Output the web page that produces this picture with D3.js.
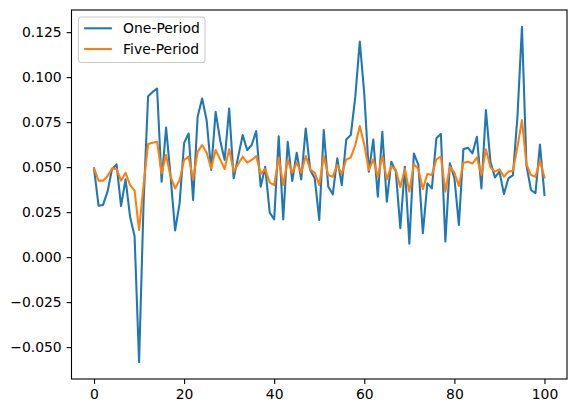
<!DOCTYPE html>
<html>
<head>
<meta charset="utf-8">
<script src="https://cdn.jsdelivr.net/npm/d3@7"></script>
<style>
  body { margin: 0; background: #fff; }
  text { font-family: "DejaVu Sans", sans-serif; }
</style>
</head>
<body>
<div id="chart"></div>
<script>
const width = 577, height = 413;
const margin = {left: 71.5, right: 10, top: 10, bottom: 34};

// period index 0..100
const periods = d3.range(0, 101);
const onePeriod = [
  0.0493, 0.0286, 0.0290, 0.0364, 0.0490, 0.0515, 0.0284, 0.0432, 0.0225, 0.0118,
  -0.0584, 0.0300, 0.0894, 0.0918, 0.0937, 0.0419, 0.0720, 0.0447, 0.0148, 0.0300,
  0.0635, 0.0687, 0.0318, 0.0780, 0.0881, 0.0761, 0.0484, 0.0807, 0.0650, 0.0540,
  0.0826, 0.0438, 0.0558, 0.0678, 0.0595, 0.0623, 0.0700, 0.0391, 0.0502, 0.0247,
  0.0210, 0.0672, 0.0210, 0.0641, 0.0423, 0.0580, 0.0432, 0.0715, 0.0484, 0.0438,
  0.0207, 0.0706, 0.0391, 0.0349, 0.0549, 0.0400, 0.0654, 0.0678, 0.0890, 0.1198,
  0.0905, 0.0475, 0.0654, 0.0336, 0.0696, 0.0308, 0.0530, 0.0475, 0.0161, 0.0502,
  0.0074, 0.0576, 0.0512, 0.0133, 0.0410, 0.0382, 0.0660, 0.0684, 0.0087, 0.0521,
  0.0440, 0.0179, 0.0599, 0.0608, 0.0576, 0.0669, 0.0382, 0.0817, 0.0530, 0.0443,
  0.0475, 0.0351, 0.0438, 0.0456, 0.0780, 0.1280, 0.0510, 0.0373, 0.0355, 0.0626,
  0.0345
];
const fivePeriod = [
  0.0493, 0.0425, 0.0425, 0.0450, 0.0493, 0.0490, 0.0425, 0.0469, 0.0400, 0.0369,
  0.0151, 0.0400, 0.0628, 0.0635, 0.0641, 0.0466, 0.0567, 0.0447, 0.0382, 0.0428,
  0.0540, 0.0558, 0.0432, 0.0585, 0.0623, 0.0580, 0.0493, 0.0595, 0.0543, 0.0490,
  0.0599, 0.0475, 0.0517, 0.0558, 0.0525, 0.0540, 0.0562, 0.0462, 0.0490, 0.0414,
  0.0400, 0.0554, 0.0400, 0.0540, 0.0469, 0.0525, 0.0469, 0.0562, 0.0488, 0.0469,
  0.0400, 0.0562, 0.0456, 0.0447, 0.0512, 0.0462, 0.0543, 0.0554, 0.0623, 0.0728,
  0.0625, 0.0484, 0.0543, 0.0447, 0.0562, 0.0432, 0.0506, 0.0484, 0.0388, 0.0490,
  0.0364, 0.0517, 0.0490, 0.0377, 0.0462, 0.0456, 0.0543, 0.0558, 0.0364, 0.0502,
  0.0470, 0.0395, 0.0525, 0.0530, 0.0520, 0.0554, 0.0456, 0.0599, 0.0500, 0.0475,
  0.0488, 0.0447, 0.0475, 0.0480, 0.0613, 0.0761, 0.0515, 0.0456, 0.0447, 0.0536,
  0.0443
];
const seriesNames = ["One-Period", "Five-Period"];
const colors = ["#1f77b4", "#ff7f0e"];
const xTicks = [0, 20, 40, 60, 80, 100];
const yTicks = [-0.05, -0.025, 0, 0.025, 0.05, 0.075, 0.1, 0.125];

const svg = d3.select("#chart").append("svg")
    .attr("width", width)
    .attr("height", height);

// matplotlib-like 5% padding on both axes
const xMin = d3.min(periods), xMax = d3.max(periods);
const xPad = (xMax - xMin) * 0.05;
const allY = onePeriod.concat(fivePeriod);
const yMin = d3.min(allY), yMax = d3.max(allY);
const yPad = (yMax - yMin) * 0.05;

const x = d3.scaleLinear()
    .domain([xMin - xPad, xMax + xPad])
    .range([margin.left, width - margin.right]);
const y = d3.scaleLinear()
    .domain([yMin - yPad, yMax + yPad])
    .range([height - margin.bottom, margin.top]);

const line = d3.line()
    .x((d, i) => x(periods[i]))
    .y(d => y(d));

[onePeriod, fivePeriod].forEach((s, k) => {
  svg.append("path")
      .datum(s)
      .attr("fill", "none")
      .attr("stroke", colors[k])
      .attr("stroke-width", 2.08)
      .attr("stroke-linejoin", "round")
      .attr("stroke-linecap", "square")
      .attr("d", line);
});

// axes
const xAxis = svg.append("g")
    .attr("transform", "translate(0," + (height - margin.bottom) + ")")
    .call(d3.axisBottom(x).tickValues(xTicks).tickFormat(d3.format("d"))
      .tickSize(4.9).tickPadding(4.9).tickSizeOuter(0));
const yAxis = svg.append("g")
    .attr("transform", "translate(" + margin.left + ",0)")
    .call(d3.axisLeft(y).tickValues(yTicks).tickFormat(d3.format(".3f"))
      .tickSize(4.9).tickPadding(4.9).tickSizeOuter(0));

[xAxis, yAxis].forEach(g => {
  g.select(".domain").remove();
  g.selectAll(".tick line").attr("stroke", "#000").attr("stroke-width", 1.1);
  g.selectAll(".tick text").attr("fill", "#000")
      .style("font-size", "13.9px").style("font-family", "DejaVu Sans");
});

// frame
svg.append("rect")
    .attr("x", margin.left)
    .attr("y", margin.top)
    .attr("width", width - margin.right - margin.left)
    .attr("height", height - margin.bottom - margin.top)
    .attr("fill", "none")
    .attr("stroke", "#000")
    .attr("stroke-width", 1.1);

// legend
const legend = svg.append("g").attr("transform", "translate(78.5,17)");
legend.append("rect")
    .attr("width", 126.5)
    .attr("height", 45.5)
    .attr("rx", 2.8)
    .attr("fill", "#fff")
    .attr("fill-opacity", 0.8)
    .attr("stroke", "#cccccc")
    .attr("stroke-width", 1.1);
seriesNames.forEach((name, k) => {
  const cy = 11.3 + k * 20.7;
  legend.append("line")
      .attr("x1", 5.6).attr("x2", 33.4)
      .attr("y1", cy).attr("y2", cy)
      .attr("stroke", colors[k])
      .attr("stroke-width", 2.08);
  legend.append("text")
      .attr("x", 44.6)
      .attr("y", cy)
      .attr("dy", "0.36em")
      .style("font-size", "13.9px")
      .attr("fill", "#000")
      .text(name);
});
</script>
</body>
</html>
